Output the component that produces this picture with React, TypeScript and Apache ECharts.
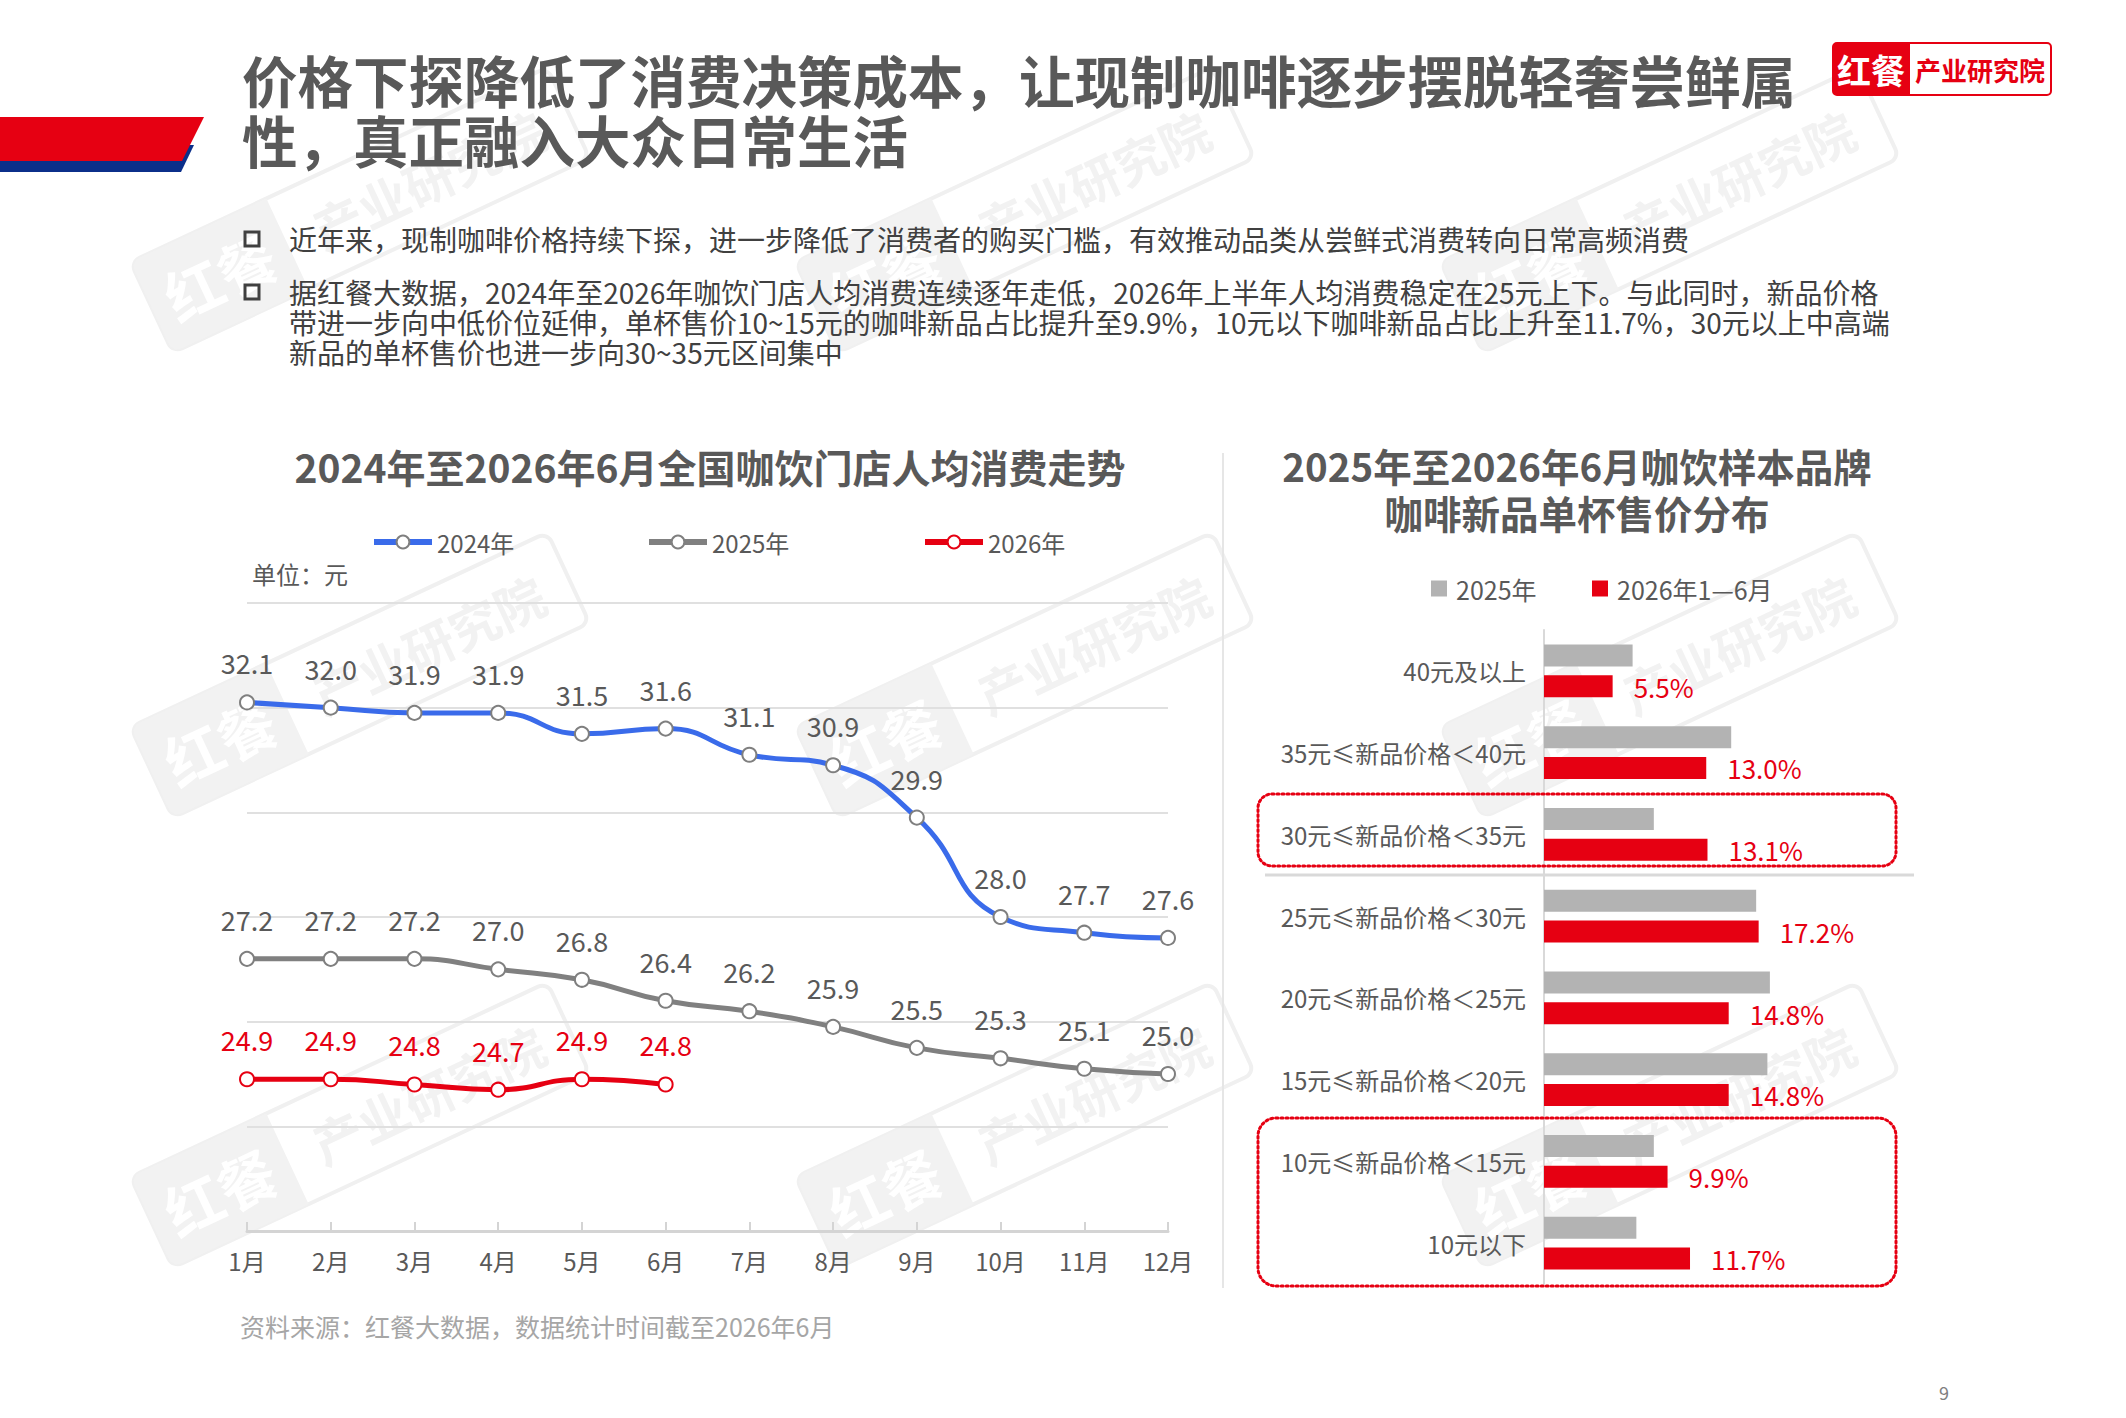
import React, { useEffect, useRef } from 'react';
import * as echarts from 'echarts';

// 左圖：全國咖飲門店人均消費（元）
const months = ['1月', '2月', '3月', '4月', '5月', '6月', '7月', '8月', '9月', '10月', '11月', '12月'];
const avg2024 = [32.1, 32.0, 31.9, 31.9, 31.5, 31.6, 31.1, 30.9, 29.9, 28.0, 27.7, 27.6];
const avg2025 = [27.2, 27.2, 27.2, 27.0, 26.8, 26.4, 26.2, 25.9, 25.5, 25.3, 25.1, 25.0];
const avg2026 = [24.9, 24.9, 24.8, 24.7, 24.9, 24.8];

// 右圖：咖啡新品單杯售價分布（%）
const priceBands = [
  '40元及以上',
  '35元≤新品价格＜40元',
  '30元≤新品价格＜35元',
  '25元≤新品价格＜30元',
  '20元≤新品价格＜25元',
  '15元≤新品价格＜20元',
  '10元≤新品价格＜15元',
  '10元以下',
];
const share2025 = [7.1, 15.0, 8.8, 17.0, 18.1, 17.9, 8.8, 7.4];
const share2026H1 = [5.5, 13.0, 13.1, 17.2, 14.8, 14.8, 9.9, 11.7];

// 頁面文字
const titleLines = ['价格下探降低了消费决策成本，让现制咖啡逐步摆脱轻奢尝鲜属', '性，真正融入大众日常生活'];
const bullet1 = ['近年来，现制咖啡价格持续下探，进一步降低了消费者的购买门槛，有效推动品类从尝鲜式消费转向日常高频消费'];
const bullet2 = [
  '据红餐大数据，2024年至2026年咖饮门店人均消费连续逐年走低，2026年上半年人均消费稳定在25元上下。与此同时，新品价格',
  '带进一步向中低价位延伸，单杯售价10~15元的咖啡新品占比提升至9.9%，10元以下咖啡新品占比上升至11.7%，30元以上中高端',
  '新品的单杯售价也进一步向30~35元区间集中',
];

const FONT = '"Noto Sans CJK SC", "Noto Sans", sans-serif';
const RED = '#E60012';
const GREY_TEXT = '#595959';

// 多行文字放在同一個 text 元素裡，lineHeight 控制行距
const txt = (
  lines: string | string[],
  x: number,
  y: number,
  size: number,
  fill: string,
  weight = 'normal',
  align = 'left',
  lineHeight = size,
) => ({
  type: 'text',
  x,
  y,
  z: 20,
  silent: true,
  style: {
    text: Array.isArray(lines) ? lines.join('\n') : lines,
    font: `${weight} ${size}px ${FONT}`,
    lineHeight,
    fill,
    textAlign: align,
    textVerticalAlign: 'top',
  },
});

// 水印
const stamp = (cx: number, cy: number) => ({
  type: 'group',
  x: cx,
  y: cy,
  rotation: (25 * Math.PI) / 180,
  z: 0,
  silent: true,
  children: [
    {
      type: 'rect',
      shape: { x: -230, y: -50, width: 460, height: 100, r: 10 },
      style: { fill: 'none', stroke: '#f0f0f0', lineWidth: 4 },
    },
    {
      type: 'rect',
      shape: { x: -230, y: -50, width: 150, height: 100, r: [10, 0, 0, 10] },
      style: { fill: '#f2f2f2' },
    },
    {
      type: 'text',
      x: -155,
      y: 0,
      style: { text: '红餐', font: `bold 58px ${FONT}`, fill: '#ffffff', textAlign: 'center', textVerticalAlign: 'middle' },
    },
    {
      type: 'text',
      x: 75,
      y: 0,
      style: { text: '产业研究院', font: `bold 50px ${FONT}`, fill: '#f2f2f2', textAlign: 'center', textVerticalAlign: 'middle' },
    },
  ],
});

const lineSeries = (name: string, data: number[], color: string, border: string, labelColor: string) => ({
  type: 'line',
  name,
  data,
  xAxisIndex: 0,
  yAxisIndex: 0,
  smooth: true,
  symbol: 'circle',
  symbolSize: 14,
  showAllSymbol: true,
  lineStyle: { color, width: 5 },
  itemStyle: { color: '#ffffff', borderColor: border, borderWidth: 2 },
  label: {
    show: true,
    position: 'top',
    distance: 18,
    color: labelColor,
    fontSize: 27,
    fontFamily: FONT,
    formatter: (p: any) => Number(p.value).toFixed(1),
  },
  z: 3,
});

const buildOption = (): echarts.EChartsOption => {
  const wmX = [360, 1025, 1670];
  const wmY = [210, 675, 1125];
  const watermarks: any[] = [];
  wmY.forEach(y => wmX.forEach(x => watermarks.push(stamp(x, y))));

  const legendText = { color: GREY_TEXT, fontSize: 24, fontFamily: FONT };
  const lineLegend = (name: string, left: number, color: string) => ({
    data: [name],
    left,
    top: 525,
    itemWidth: 58,
    itemHeight: 16,
    selectedMode: false,
    lineStyle: { color, width: 6 },
    textStyle: legendText,
  });

  return {
    animation: false,
    backgroundColor: '#ffffff',
    textStyle: { fontFamily: FONT },
    grid: [
      { left: 247, top: 603, width: 921, height: 628 },
      { left: 1544, top: 630, width: 312, height: 654 },
    ],
    legend: [
      lineLegend('2024年', 366, '#3A6BEA'),
      lineLegend('2025年', 641, '#808080'),
      lineLegend('2026年', 917, RED),
      {
        data: ['2025年全年'],
        formatter: () => '2025年',
        left: 1426,
        top: 571,
        icon: 'rect',
        itemWidth: 16,
        itemHeight: 16,
        selectedMode: false,
        textStyle: { ...legendText, fontSize: 25, padding: [0, 0, 0, 4] },
      },
      {
        data: ['2026年1—6月'],
        left: 1587,
        top: 571,
        icon: 'rect',
        itemWidth: 16,
        itemHeight: 16,
        selectedMode: false,
        textStyle: { ...legendText, fontSize: 25, padding: [0, 0, 0, 4] },
      },
    ],
    xAxis: [
      {
        type: 'category',
        gridIndex: 0,
        data: months,
        boundaryGap: false,
        axisLine: { lineStyle: { color: '#d4d4d4', width: 3 } },
        axisTick: { inside: true, length: 9, lineStyle: { color: '#d4d4d4', width: 2 } },
        axisLabel: { color: GREY_TEXT, fontSize: 24, fontFamily: FONT, margin: 17 },
        splitLine: { show: false },
      },
      {
        type: 'value',
        gridIndex: 1,
        min: 0,
        max: 25,
        show: false,
      },
    ],
    yAxis: [
      {
        type: 'value',
        gridIndex: 0,
        min: 22,
        max: 34,
        interval: 2,
        axisLine: { show: false },
        axisTick: { show: false },
        axisLabel: { show: false },
        splitLine: { lineStyle: { color: '#e0e0e0', width: 2 } },
      },
      {
        type: 'category',
        gridIndex: 1,
        data: priceBands,
        inverse: true,
        axisLine: { lineStyle: { color: '#d9d9d9', width: 2 } },
        axisTick: { inside: true, length: 9, lineStyle: { color: '#d9d9d9', width: 2 } },
        axisLabel: { color: GREY_TEXT, fontSize: 24, fontFamily: FONT, margin: 18 },
        splitLine: { show: false },
      },
    ],
    series: [
      lineSeries('2024年', avg2024, '#3A6BEA', '#7f7f7f', GREY_TEXT),
      lineSeries('2025年', avg2025, '#808080', '#7f7f7f', GREY_TEXT),
      lineSeries('2026年', avg2026, RED, RED, RED),
      {
        type: 'bar',
        name: '2025年全年',
        data: share2025,
        xAxisIndex: 1,
        yAxisIndex: 1,
        barWidth: 22,
        barGap: '39%',
        itemStyle: { color: '#B3B3B3' },
      },
      {
        type: 'bar',
        name: '2026年1—6月',
        data: share2026H1,
        xAxisIndex: 1,
        yAxisIndex: 1,
        barWidth: 22,
        barGap: '39%',
        itemStyle: { color: RED },
        label: {
          show: true,
          position: 'right',
          distance: 21,
          color: RED,
          fontSize: 26,
          fontFamily: FONT,
          formatter: (p: any) => Number(p.value).toFixed(1) + '%',
        },
      },
    ] as any,
    graphic: [
      ...watermarks,
      // 左上色條
      { type: 'polygon', z: 10, shape: { points: [[0, 145], [194, 145], [181, 172], [0, 172]] }, style: { fill: '#0B2F8A' } },
      { type: 'polygon', z: 11, shape: { points: [[0, 117], [204, 117], [182, 161], [0, 161]] }, style: { fill: RED } },
      // 右上標誌
      { type: 'rect', z: 10, shape: { x: 1833, y: 43, width: 218, height: 52, r: 4 }, style: { fill: '#ffffff', stroke: RED, lineWidth: 2 } },
      { type: 'rect', z: 11, shape: { x: 1833, y: 43, width: 77, height: 52, r: [4, 0, 0, 4] }, style: { fill: RED } },
      txt('红餐', 1871, 52, 34, '#ffffff', 'bold', 'center'),
      txt('产业研究院', 1980, 56, 26, RED, 'bold', 'center'),
      // 標題（行中心 79 / 139）
      txt(titleLines, 242, 49, 55.5, GREY_TEXT, 'bold', 'left', 60),
      // 要點
      { type: 'rect', z: 20, shape: { x: 245, y: 232, width: 14, height: 14 }, style: { fill: 'none', stroke: '#404040', lineWidth: 3 } },
      { type: 'rect', z: 20, shape: { x: 245, y: 285, width: 14, height: 14 }, style: { fill: 'none', stroke: '#404040', lineWidth: 3 } },
      txt(bullet1, 289, 224, 28, '#404040', 'normal', 'left', 30),
      txt(bullet2, 289, 277, 28, '#404040', 'normal', 'left', 30),
      // 圖表標題
      txt('2024年至2026年6月全国咖饮门店人均消费走势', 710, 446.5, 39, GREY_TEXT, 'bold', 'center'),
      txt(['2025年至2026年6月咖饮样本品牌', '咖啡新品单杯售价分布'], 1577, 441, 38.5, GREY_TEXT, 'bold', 'center', 47),
      txt('单位：元', 252, 561, 24, GREY_TEXT),
      // 分隔線
      { type: 'line', z: 5, shape: { x1: 1223, y1: 453, x2: 1223, y2: 1288 }, style: { stroke: '#e6e6e6', lineWidth: 2 } },
      { type: 'line', z: 5, shape: { x1: 1265, y1: 875, x2: 1914, y2: 875 }, style: { stroke: '#d9d9d9', lineWidth: 3 } },
      // 重點框
      {
        type: 'rect',
        z: 5,
        shape: { x: 1258, y: 794, width: 638, height: 72, r: 14 },
        style: { fill: 'none', stroke: RED, lineWidth: 3, lineDash: [2, 3], lineCap: 'round' },
      },
      {
        type: 'rect',
        z: 5,
        shape: { x: 1258, y: 1118, width: 638, height: 168, r: 18 },
        style: { fill: 'none', stroke: RED, lineWidth: 3, lineDash: [2, 3], lineCap: 'round' },
      },
      // 來源與頁碼
      txt('资料来源：红餐大数据，数据统计时间截至2026年6月', 240, 1313.5, 25, '#a6a6a6'),
      txt('9', 1944, 1383, 18, '#808080', 'normal', 'center'),
    ] as any,
  };
};

export default function App() {
  const chartRef = useRef<HTMLDivElement>(null);

  useEffect(() => {
    if (!chartRef.current) return;
    const chart = echarts.init(chartRef.current, null, { renderer: 'svg' });
    chart.setOption(buildOption());
    return () => {
      chart.dispose();
    };
  }, []);

  return (
    <div
      ref={chartRef}
      style={{ position: 'absolute', left: 0, top: 0, width: 2126, height: 1418, background: '#ffffff' }}
    />
  );
}
